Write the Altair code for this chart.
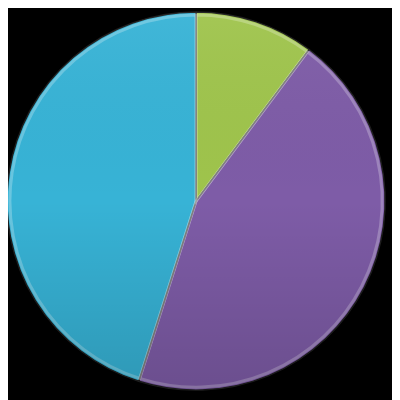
import altair as alt
import pandas as pd

categories = ["A", "B", "C"]
values = [10.2, 44.7, 45.1]
colors = ["#9fc44c", "#7e5ca7", "#37b3d6"]
order = [1, 2, 3]

df = pd.DataFrame({"cat": categories, "val": values, "ord": order})

cx, cy, r = 192, 193, 193

enc = dict(
    theta=alt.Theta("val:Q", stack=True),
    order=alt.Order("ord:Q"),
    x=alt.value(cx),
    y=alt.value(cy),
)

base = alt.Chart(df).mark_arc(
    radius=r, stroke="#1e1e1e", strokeWidth=1.5
).encode(
    color=alt.Color("cat:N", scale=alt.Scale(domain=categories, range=colors), legend=None),
    **enc,
)

bevel = alt.Chart(df).mark_arc(
    radius=r - 3, filled=False, strokeWidth=3, strokeOpacity=0.25, stroke="white"
).encode(**enc)

shade = alt.Chart(pd.DataFrame({"v": [1]})).mark_arc(
    radius=r,
    theta=0,
    theta2=6.2832,
    color=alt.Gradient(
        gradient="linear",
        stops=[
            alt.GradientStop(color="rgba(255,255,255,0.05)", offset=0),
            alt.GradientStop(color="rgba(0,0,0,0.0)", offset=0.5),
            alt.GradientStop(color="rgba(0,0,0,0.15)", offset=1),
        ],
        x1=0, y1=0, x2=0, y2=1,
    ),
).encode(x=alt.value(cx), y=alt.value(cy))

chart = alt.layer(base, bevel, shade).properties(
    width=392, height=392, background="black",
    autosize=alt.AutoSizeParams(type="none"), padding=0
).configure_view(stroke=None)

chart.save("out.html", embed_options={"renderer": "svg", "actions": False})
